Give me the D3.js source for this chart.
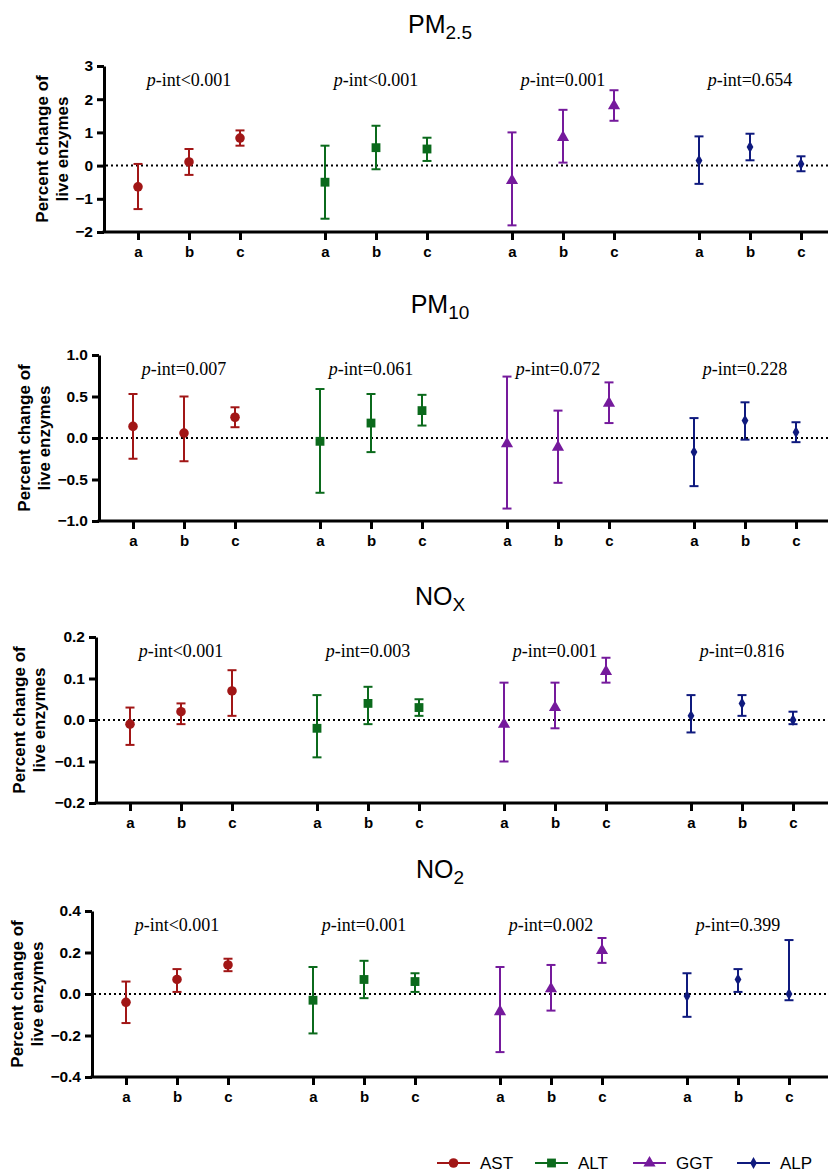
<!DOCTYPE html>
<html>
<head>
<meta charset="utf-8">
<script src="https://cdn.jsdelivr.net/npm/d3@7"></script>
<style>
  body { margin: 0; background: #fff; }
  svg { display: block; }
</style>
</head>
<body>
<script>
var width = 828, height = 1176;

var groups = ["a", "b", "c"];
var enzymes = ["AST", "ALT", "GGT", "ALP"];
var colors = ["#a11616", "#0b6a1c", "#751a9c", "#0f1a7e"];

// estimate / lower / upper, ordered AST a,b,c, ALT a,b,c, GGT a,b,c, ALP a,b,c
var pm25Est = [-0.64, 0.11, 0.83, -0.50, 0.54, 0.50, -0.45, 0.85, 1.80, 0.15, 0.56, 0.05];
var pm25Lo  = [-1.31, -0.28, 0.60, -1.60, -0.11, 0.14, -1.80, 0.09, 1.35, -0.55, 0.16, -0.17];
var pm25Hi  = [0.05, 0.50, 1.06, 0.60, 1.20, 0.84, 1.00, 1.68, 2.27, 0.88, 0.96, 0.28];

var pm10Est = [0.14, 0.06, 0.25, -0.04, 0.18, 0.33, -0.07, -0.11, 0.42, -0.17, 0.21, 0.07];
var pm10Lo  = [-0.25, -0.28, 0.13, -0.66, -0.17, 0.15, -0.85, -0.54, 0.18, -0.58, -0.02, -0.05];
var pm10Hi  = [0.53, 0.50, 0.37, 0.59, 0.53, 0.52, 0.74, 0.33, 0.67, 0.24, 0.43, 0.19];

var noxEst = [-0.01, 0.02, 0.07, -0.02, 0.04, 0.03, -0.01, 0.03, 0.117, 0.01, 0.04, 0.00];
var noxLo  = [-0.06, -0.01, 0.01, -0.09, -0.01, 0.01, -0.10, -0.02, 0.09, -0.03, 0.01, -0.01];
var noxHi  = [0.03, 0.04, 0.12, 0.06, 0.08, 0.05, 0.09, 0.09, 0.15, 0.06, 0.06, 0.02];

var no2Est = [-0.04, 0.07, 0.14, -0.03, 0.07, 0.06, -0.085, 0.025, 0.21, -0.01, 0.07, 0.00];
var no2Lo  = [-0.14, 0.01, 0.11, -0.19, -0.02, 0.01, -0.28, -0.08, 0.15, -0.11, 0.01, -0.03];
var no2Hi  = [0.06, 0.12, 0.17, 0.13, 0.16, 0.10, 0.13, 0.14, 0.27, 0.10, 0.12, 0.26];

var pm25P = ["<0.001", "<0.001", "=0.001", "=0.654"];
var pm10P = ["=0.007", "=0.061", "=0.072", "=0.228"];
var noxP  = ["<0.001", "=0.003", "=0.001", "=0.816"];
var no2P  = ["<0.001", "=0.001", "=0.002", "=0.399"];

var pm25Ticks = [-2, -1, 0, 1, 2, 3];
var pm10Ticks = [-1.0, -0.5, 0.0, 0.5, 1.0];
var noxTicks  = [-0.2, -0.1, 0.0, 0.1, 0.2];
var no2Ticks  = [-0.4, -0.2, 0.0, 0.2, 0.4];

var panels = [
  { name: "PM", sub: "2.5", est: pm25Est, lo: pm25Lo, hi: pm25Hi, p: pm25P, ticks: pm25Ticks, fmt: d3.format("d"),
    top: 66, axisX: 104, labX: 43, titleY: 33 },
  { name: "PM", sub: "10", est: pm10Est, lo: pm10Lo, hi: pm10Hi, p: pm10P, ticks: pm10Ticks, fmt: d3.format(".1f"),
    top: 355, axisX: 99, labX: 25, titleY: 313 },
  { name: "NO", sub: "X", est: noxEst, lo: noxLo, hi: noxHi, p: noxP, ticks: noxTicks, fmt: d3.format(".1f"),
    top: 637, axisX: 96, labX: 20, titleY: 605 },
  { name: "NO", sub: "2", est: no2Est, lo: no2Lo, hi: no2Hi, p: no2P, ticks: no2Ticks, fmt: d3.format(".1f"),
    top: 911, axisX: 92, labX: 18, titleY: 878 }
];

var plotH = 166;
var symbols = [d3.symbolCircle, d3.symbolSquare, d3.symbolTriangle, d3.symbolDiamond];
var symSizes = [72, 78, 64, 40];

function slot(e, g) { return e * (11 / 3) + g; }

var svg = d3.select("body").append("svg")
    .attr("width", width)
    .attr("height", height);

panels.forEach(function (pn) {
  var g = svg.append("g");
  var bottom = pn.top + plotH;
  var firstA = pn.axisX + 34;
  var x = d3.scaleLinear().domain([0, 13]).range([firstA, firstA + 51 * 13]);
  var y = d3.scaleLinear().domain(d3.extent(pn.ticks)).range([bottom, pn.top]);

  // title
  var t = g.append("text")
      .attr("x", 440).attr("y", pn.titleY)
      .attr("text-anchor", "middle")
      .style("font-family", "Liberation Sans, Arial, sans-serif")
      .style("font-size", "25px");
  t.append("tspan").text(pn.name);
  t.append("tspan").attr("dy", 6).style("font-size", "19px").text(pn.sub);

  // y axis
  var ya = g.append("g")
      .attr("transform", "translate(" + pn.axisX + ",0)")
      .call(d3.axisLeft(y).tickValues(pn.ticks).tickFormat(pn.fmt).tickSize(7).tickSizeOuter(0));
  ya.select(".domain").attr("stroke-width", 3);
  ya.selectAll(".tick line").attr("stroke-width", 3);
  ya.selectAll(".tick text")
      .attr("x", -11)
      .style("font-family", "Liberation Sans, Arial, sans-serif")
      .style("font-weight", "bold")
      .style("font-size", "15.5px")
      .style("fill", "#000");

  // x axis
  var slots = [];
  enzymes.forEach(function (e, ei) { groups.forEach(function (gr, gi) { slots.push(slot(ei, gi)); }); });
  var xa = g.append("g")
      .attr("transform", "translate(0," + bottom + ")")
      .call(d3.axisBottom(x).tickValues(slots)
        .tickFormat(function (d, i) { return groups[i % 3]; })
        .tickSize(8).tickSizeOuter(0));
  xa.select(".domain").remove();
  xa.selectAll(".tick line").attr("stroke-width", 3);
  xa.selectAll(".tick text")
      .attr("y", 14)
      .style("font-family", "Liberation Sans, Arial, sans-serif")
      .style("font-weight", "bold")
      .style("font-size", "15px")
      .style("fill", "#000");
  g.append("line")
      .attr("x1", pn.axisX - 1.5).attr("x2", width)
      .attr("y1", bottom).attr("y2", bottom)
      .attr("stroke", "#000").attr("stroke-width", 3);

  // zero line
  g.append("line")
      .attr("x1", pn.axisX + 2).attr("x2", width)
      .attr("y1", y(0)).attr("y2", y(0))
      .attr("stroke", "#000").attr("stroke-width", 2)
      .attr("stroke-dasharray", "2,3");

  // y label
  var yl = g.append("text")
      .attr("transform", "translate(" + pn.labX + "," + (pn.top + plotH / 2) + ") rotate(-90)")
      .attr("text-anchor", "middle")
      .style("font-family", "Liberation Sans, Arial, sans-serif")
      .style("font-weight", "bold")
      .style("font-size", "17px");
  yl.append("tspan").attr("x", 0).attr("dy", 5).text("Percent change of");
  yl.append("tspan").attr("x", 0).attr("dy", 20).text("live enzymes");

  // p-int labels
  pn.p.forEach(function (pv, ei) {
    var pt = g.append("text")
        .attr("x", x(slot(ei, 1))).attr("y", pn.top + 20)
        .attr("text-anchor", "middle")
        .style("font-family", "Liberation Serif, Times New Roman, serif")
        .style("font-size", "18px");
    pt.append("tspan").style("font-style", "italic").text("p");
    pt.append("tspan").text("-int" + pv);
  });

  // error bars + markers
  var rows = [];
  enzymes.forEach(function (e, ei) {
    groups.forEach(function (gr, gi) {
      var k = ei * 3 + gi;
      rows.push({ e: ei, g: gi, est: pn.est[k], lo: pn.lo[k], hi: pn.hi[k] });
    });
  });
  var cap = 4.5;
  var bars = g.selectAll(".bar").data(rows).enter().append("g").attr("class", "bar")
      .attr("stroke", function (d) { return colors[d.e]; })
      .attr("stroke-width", 2);
  bars.append("line")
      .attr("x1", function (d) { return x(slot(d.e, d.g)); })
      .attr("x2", function (d) { return x(slot(d.e, d.g)); })
      .attr("y1", function (d) { return y(d.lo); })
      .attr("y2", function (d) { return y(d.hi); });
  bars.append("line")
      .attr("x1", function (d) { return x(slot(d.e, d.g)) - cap; })
      .attr("x2", function (d) { return x(slot(d.e, d.g)) + cap; })
      .attr("y1", function (d) { return y(d.lo); })
      .attr("y2", function (d) { return y(d.lo); });
  bars.append("line")
      .attr("x1", function (d) { return x(slot(d.e, d.g)) - cap; })
      .attr("x2", function (d) { return x(slot(d.e, d.g)) + cap; })
      .attr("y1", function (d) { return y(d.hi); })
      .attr("y2", function (d) { return y(d.hi); });
  g.selectAll(".mark").data(rows).enter().append("path").attr("class", "mark")
      .attr("transform", function (d) { return "translate(" + x(slot(d.e, d.g)) + "," + y(d.est) + ")"; })
      .attr("d", function (d) { return d3.symbol().type(symbols[d.e]).size(symSizes[d.e])(); })
      .attr("fill", function (d) { return colors[d.e]; });
});

// legend
var legX = [437, 535, 633, 737];
var legY = 1163;
enzymes.forEach(function (e, i) {
  var lg = svg.append("g").attr("transform", "translate(" + legX[i] + "," + legY + ")");
  lg.append("line").attr("x1", 0).attr("x2", 33).attr("y1", 0).attr("y2", 0)
      .attr("stroke", colors[i]).attr("stroke-width", 2);
  lg.append("path").attr("transform", "translate(16.5,0)")
      .attr("d", d3.symbol().type(symbols[i]).size(symSizes[i])())
      .attr("fill", colors[i]);
  lg.append("text").attr("x", 43).attr("y", 6)
      .style("font-family", "Liberation Sans, Arial, sans-serif")
      .style("font-size", "17px")
      .text(e);
});
</script>
</body>
</html>
